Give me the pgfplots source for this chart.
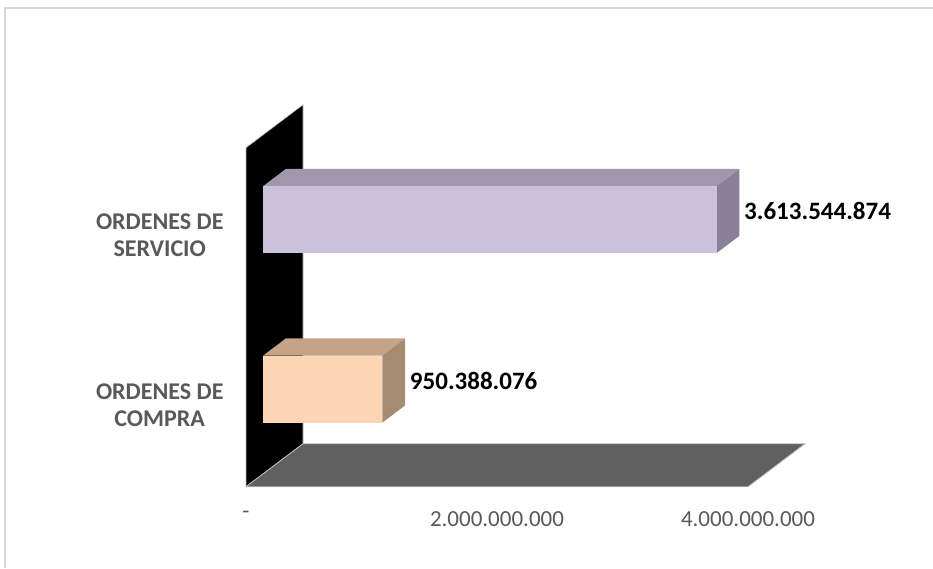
\documentclass[border=0pt]{standalone}
\usepackage{pgfplots}
\pgfplotsset{compat=1.18}
\usepackage{fontspec}
\setmainfont{Carlito}

\definecolor{lblgray}{HTML}{595959}
\definecolor{framec}{HTML}{D9D9D9}
\definecolor{floorc}{HTML}{606060}
\definecolor{edgec}{HTML}{BFBFBF}
\definecolor{servfront}{HTML}{CCC1DA}
\definecolor{servtop}{HTML}{A096AE}
\definecolor{servside}{HTML}{8B8099}
\definecolor{compfront}{HTML}{FCD5B5}
\definecolor{comptop}{HTML}{C4A386}
\definecolor{compside}{HTML}{A68B73}

\begin{document}
\begin{tikzpicture}
\useasboundingbox (0,0) rectangle (933pt,568pt);
\draw[framec, line width=2pt] (5pt,0pt) -- (5pt,560pt) -- (933pt,560pt);
\begin{axis}[
    at={(246pt,166pt)}, anchor=origin,
    x={(125.5pt,0pt)}, y={(0pt,169.5pt)}, z={(57pt,43pt)},
    xmin=0, xmax=4, ymin=-0.5, ymax=1.5, zmin=0, zmax=1,
    x filter/.expression={x/1e9},
    clip=false,
    axis line style={draw=none},
    tick style={draw=none},
    /pgf/number format/assume math mode=true,
    xtick={0,2,4},
    xticklabels={-,2.000.000.000,4.000.000.000},
    xticklabel style={font=\fontsize{23}{27}\selectfont, text=lblgray,
      anchor=north, yshift=-21pt},
    ytick={0,1},
    yticklabels={{ORDENES DE\\COMPRA},{ORDENES DE\\SERVICIO}},
    yticklabel style={font=\bfseries\fontsize{24}{27}\selectfont, text=lblgray,
      align=center, anchor=east, xshift=-19pt, yshift=-3pt},
    ztick=\empty,
  ]
  % wall and floor
  \addplot3[fill=black, draw=edgec, line width=0.6pt] coordinates {(0,-0.5,0) (0,1.5,0) (0,1.5,1) (0,-0.5,1) (0,-0.5,0)};
  \addplot3[fill=floorc, draw=edgec, line width=0.8pt] coordinates {(0,-0.5,0) (4000000000,-0.5,0) (4000000000,-0.5,1) (0,-0.5,1) (0,-0.5,0)};

  % ORDENES DE SERVICIO
  \addplot3[fill=servtop, draw=none] coordinates {(0,1.1975,0.3) (3613544874,1.1975,0.3) (3613544874,1.1975,0.7) (0,1.1975,0.7)};
  \addplot3[fill=servside, draw=none] coordinates {(3613544874,0.8025,0.3) (3613544874,1.1975,0.3) (3613544874,1.1975,0.7) (3613544874,0.8025,0.7)};
  \addplot3[fill=servfront, draw=none] coordinates {(0,0.8025,0.3) (3613544874,0.8025,0.3) (3613544874,1.1975,0.3) (0,1.1975,0.3)};

  % ORDENES DE COMPRA
  \addplot3[fill=comptop, draw=none] coordinates {(0,0.1975,0.3) (950388076,0.1975,0.3) (950388076,0.1975,0.7) (0,0.1975,0.7)};
  \addplot3[fill=compside, draw=none] coordinates {(950388076,-0.1975,0.3) (950388076,0.1975,0.3) (950388076,0.1975,0.7) (950388076,-0.1975,0.7)};
  \addplot3[fill=compfront, draw=none] coordinates {(0,-0.1975,0.3) (950388076,-0.1975,0.3) (950388076,0.1975,0.3) (0,0.1975,0.3)};

  % value labels
  \addplot3[draw=none, mark=none, nodes near coords, point meta=explicit symbolic,
    every node near coord/.style={anchor=west, inner sep=0pt, xshift=16pt,
      font=\bfseries\fontsize{25}{29}\selectfont, text=black}]
    coordinates {(3613544874,1,0.5) [3.613.544.874] (950388076,0,0.5) [950.388.076]};
\end{axis}
\end{tikzpicture}
\end{document}
